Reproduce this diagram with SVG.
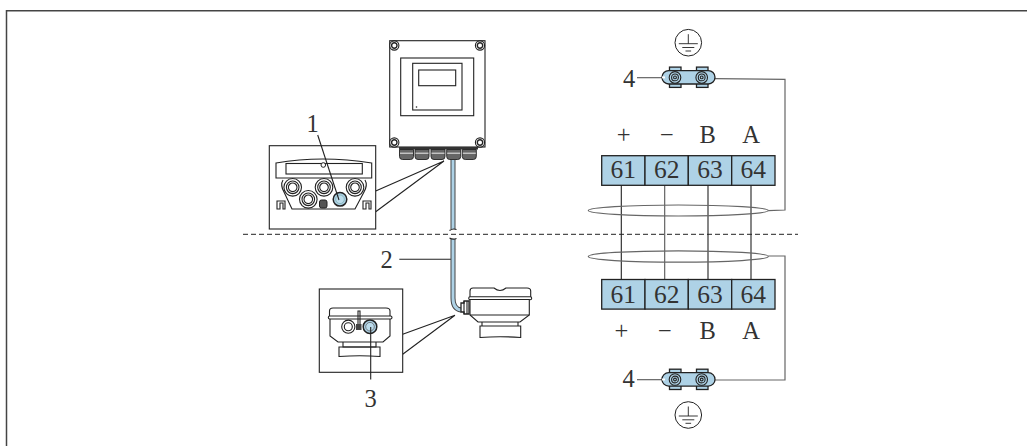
<svg xmlns="http://www.w3.org/2000/svg" width="1027" height="446" viewBox="0 0 1027 446">
<style>
text{font-family:"Liberation Serif","DejaVu Serif",serif;fill:#333}
.n{font-size:25.5px;text-anchor:middle}
.s{font-size:24.5px;text-anchor:middle}
.l{fill:none;stroke:#222;stroke-width:1.1}
.w{fill:#fff;stroke:#222;stroke-width:1.1}
.b{fill:#aed2e6;stroke:#222;stroke-width:1.3}
.g{fill:none;stroke:#666;stroke-width:1.2}
.d{fill:#666;stroke:#222;stroke-width:.9}
</style>
<defs>
<g id="clamp">
<rect x="7.5" y="-10.3" width="11.5" height="20.3" fill="#aed2e6" stroke="#222" stroke-width="1.3"/>
<rect x="34.5" y="-10.3" width="11.5" height="20.3" fill="#aed2e6" stroke="#222" stroke-width="1.3"/>
<rect class="b" x="0" y="-6.8" width="53" height="13.4" rx="6.7" stroke-width="1.5"/>
<path d="M0 0H3" stroke="#fff" stroke-width="2"/>
<g class="l"><circle cx="13" cy="0" r="5.8"/><circle cx="13" cy="0" r="3.4"/><circle cx="13" cy="0" r="1.4"/><circle cx="39.7" cy="0" r="5.8"/><circle cx="39.7" cy="0" r="3.4"/><circle cx="39.7" cy="0" r="1.4"/></g>
</g>
<g id="earth" class="l">
<circle r="13.3" stroke-width="1"/>
<path d="M0-8.5V1M-9.5 1H9.5M-6 4.8H6M-2.8 8.3H2.8" stroke-width=".9"/>
</g>
<g id="gland">
<circle class="w" r="8.8" stroke-width="1.5"/><circle class="w" r="6.3"/><circle class="w" r="4.3" stroke-width="1.3"/>
</g>
<g id="cg">
<path class="d" d="M0 0H14V7Q14 10 11 10H3Q0 10 0 7Z"/><path d="M0.5 3.7H13.5" stroke="#eee" stroke-width="1"/>
</g>
<g id="screw"><circle r="4.6" fill="#fff" stroke="#222" stroke-width="1.1"/><circle r="2.7" fill="#fff" stroke="#222" stroke-width="1.4"/></g>
</defs>
<path id="frame" d="M6.5 446V10.8H1027" fill="none" stroke="#444" stroke-width="1.5"/>
<g id="connectors">
<path d="M243 234.3H798" fill="none" stroke="#222" stroke-width="1" stroke-dasharray="5 3"/>
<g class="l">
<path d="M621.3 185V279.5"/><path d="M708 185V279.5"/><path d="M751 185V279.5"/>
<path d="M664.7 185V279.5" stroke="#555"/>
<path d="M375.7 191L444 161M375.7 211.7L444 161"/>
<path d="M402.7 334.3L455 315.3M402.7 354.3L455 315.3"/>
<path d="M399.3 259.3H453"/>
<path d="M637 77.7H665" stroke="#555"/>
<path d="M637 379.7H665" stroke="#555"/>
</g>
<path class="g" d="M768.3 210.7L785 210V79.3L715 78.7"/>
<path class="g" d="M768.3 256H785V380H715"/>
<ellipse class="g" cx="678.3" cy="210.5" rx="90" ry="5.5"/>
<ellipse class="g" cx="678.3" cy="256.5" rx="90" ry="5.7"/>
</g>
<g id="cable">
<path d="M453 160V229" fill="none" stroke="#444" stroke-width="5"/>
<path d="M453 160V229" fill="none" stroke="#aed2e6" stroke-width="3"/>
<path d="M453 239V298Q453 309 461 310" fill="none" stroke="#444" stroke-width="5"/>
<path d="M453 239V298Q453 309 461 310" fill="none" stroke="#aed2e6" stroke-width="3"/>
<path class="l" d="M449.5 230.5Q453 228 456.5 229.5M449.5 238Q453 240 456.5 238.5"/>
</g>
<g id="transmitter">
<rect class="w" x="389.7" y="40.7" width="95.3" height="106.3" stroke-width="1.6"/>
<rect class="w" x="400.7" y="58" width="73" height="57.7"/>
<rect class="w" x="412.7" y="63.3" width="49.3" height="46.7"/>
<rect class="w" x="418.7" y="70" width="37" height="15.7"/>
<circle cx="416.5" cy="107" r=".8" fill="#222"/>
<use href="#screw" x="394.3" y="45.5"/><use href="#screw" x="480" y="45.5"/><use href="#screw" x="394.3" y="142.5"/><use href="#screw" x="480" y="142.5"/>
<path d="M399 147H478V149.5H399Z" fill="#333"/>
<use href="#cg" x="399.5" y="149.5"/><use href="#cg" x="415" y="149.5"/><use href="#cg" x="431" y="149.5"/><use href="#cg" x="446.7" y="149.5"/><use href="#cg" x="462.3" y="149.5"/>
</g>
<g id="inset-1">
<rect class="w" x="269.3" y="145.7" width="106.4" height="83.3"/>
<path class="l" d="M276 178V163Q322 155 371.7 163V178Z"/>
<rect class="l" x="286" y="163.5" width="76.3" height="10.5"/>
<circle cx="323.3" cy="165" r="2.3" fill="#fff" stroke="#222"/>
<path class="l" d="M283 180Q280 185 284 192L292 209H355L364 192Q368 185 365 180"/>
<path class="w" d="M277 201H285V209H283V203H280V209H277Z" stroke-width="1.3"/>
<path class="w" d="M363 201H371V209H369V203H366V209H363Z" stroke-width="1.3"/>
<use href="#gland" x="292.7" y="187.3"/><use href="#gland" x="324" y="187.3"/><use href="#gland" x="355" y="187.3"/><use href="#gland" x="308.3" y="199.3"/>
<circle cx="340" cy="199.3" r="6.8" fill="#aed2e6" stroke="#222" stroke-width="1.5"/>
<circle cx="340" cy="199.3" r="4.3" fill="#bcdcec" stroke="#7aa" stroke-width=".7"/>
<rect x="319.5" y="200" width="7.5" height="8" rx="2" fill="#555" stroke="#222"/>
<path class="l" d="M317.7 135L339 200"/>
<text class="s" x="312.7" y="131.7">1</text>
</g>
<g id="inset-3">
<rect class="w" x="319.3" y="289" width="83.4" height="83.3"/>
<path class="l" d="M329.5 316V311Q329.5 308 333 308H386Q390 308 390 311V316"/>
<rect class="w" x="328.3" y="316" width="63.7" height="3" rx="1.5"/>
<path class="l" d="M330 319V336L338 342H383L390 336V319"/>
<path class="l" d="M343 342V347H376V342"/>
<path class="l" d="M339 347H380V356.5Q360 355 339 356.5Z"/>
<path class="l" d="M358 311H360V326H358Z"/>
<rect x="356" y="324" width="5.5" height="6" fill="#444"/>
<circle class="w" cx="348.3" cy="326.7" r="6.6" stroke-width="1.3"/><circle class="w" cx="348.3" cy="326.7" r="4"/>
<circle cx="370" cy="326.7" r="6.8" fill="#aed2e6" stroke="#222" stroke-width="1.5"/>
<circle cx="370" cy="326.7" r="4.3" fill="#bcdcec" stroke="#555" stroke-width=".7"/>
<path class="l" d="M370.7 327V379.5"/>
<text class="s" x="370.7" y="406.7">3</text>
</g>
<g id="sensor">
<path class="w" d="M470 297V291Q470 288 473 288H494Q500 293 506 288H527Q530.7 288 530.7 291V297"/>
<rect class="w" x="468.7" y="296.7" width="63" height="3" rx="1.5"/>
<path class="w" d="M470 299.5V315L478 322H520L529.3 315V299.5Z"/>
<path class="l" d="M470 315H529.3" stroke-width="1.4"/>
<path class="l" d="M482 322V326M518 322V326"/>
<path class="l" d="M480 326H520.7V337.5Q500 336 480 337.5Z"/>
<path d="M461 303H464V301H469V314H464V312H461Z" fill="#fff" stroke="#222" stroke-width="1.3"/>
<path class="l" d="M464 301V314M467 301V314"/>
</g>
<text id="label-2" class="s" x="386.7" y="268">2</text>
<g id="terminals-top">
<g class="b">
<rect x="601.7" y="155.7" width="43.3" height="29.6"/><rect x="645" y="155.7" width="43.3" height="29.6"/><rect x="688.3" y="155.7" width="43.4" height="29.6"/><rect x="731.7" y="155.7" width="43.3" height="29.6"/>
</g>
<text class="n" x="623.3" y="178">61</text><text class="n" x="666.7" y="178">62</text><text class="n" x="710" y="178">63</text><text class="n" x="753.3" y="178">64</text>
<text class="s" x="623.7" y="143">+</text><text class="s" x="667" y="143">−</text><text class="s" x="707.7" y="142.7">B</text><text class="s" x="751" y="142.7">A</text>
</g>
<g id="terminals-bottom">
<g class="b">
<rect x="601.7" y="279.5" width="43.3" height="29.6"/><rect x="645" y="279.5" width="43.3" height="29.6"/><rect x="688.3" y="279.5" width="43.4" height="29.6"/><rect x="731.7" y="279.5" width="43.3" height="29.6"/>
</g>
<text class="n" x="623.3" y="302.7">61</text><text class="n" x="666.7" y="302.7">62</text><text class="n" x="710" y="302.7">63</text><text class="n" x="753.3" y="302.7">64</text>
<text class="s" x="621.3" y="338.5">+</text><text class="s" x="665" y="338.5">−</text><text class="s" x="707.7" y="339">B</text><text class="s" x="751" y="339">A</text>
</g>
<g id="clamp-top"><use href="#clamp" x="662" y="77.4"/><text class="s" x="629" y="86.7">4</text></g>
<g id="clamp-bottom"><use href="#clamp" x="662" y="379.5"/><text class="s" x="628.5" y="387">4</text></g>
<g id="earth-top"><use href="#earth" x="688.3" y="42.7"/></g>
<g id="earth-bottom"><use href="#earth" x="688.3" y="415"/></g>
</svg>
